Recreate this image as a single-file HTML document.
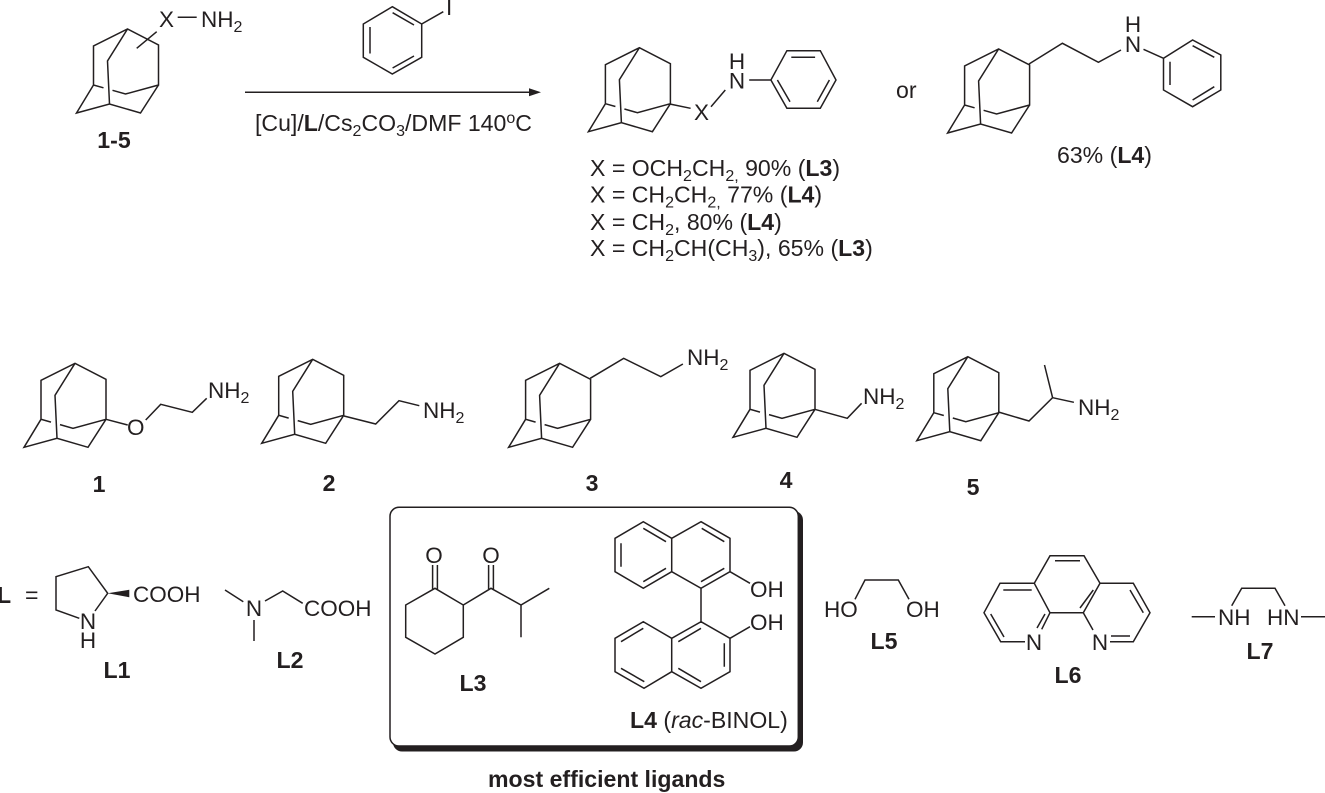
<!DOCTYPE html>
<html><head><meta charset="utf-8">
<style>
html,body{margin:0;padding:0;background:#fff;width:1325px;height:793px;overflow:hidden}
svg{display:block}
text{font-family:"Liberation Sans",sans-serif;font-size:22.5px;fill:#231f20}
text.t{font-size:23.1px}
.b{font-weight:bold}
.m{text-anchor:middle}
path,line,polygon,polyline{stroke:#231f20;stroke-width:1.5;fill:none;stroke-linejoin:miter}
tspan.s{font-size:16px}
</style></head><body>
<svg width="1325" height="793" viewBox="0 0 1325 793" xmlns="http://www.w3.org/2000/svg">
<defs><path id="ad" d="M-34 56V17L0 0L31 16V56L-2 65L-15 61.3M-24 58.8L-34 56L-51 84L-18 75L13 84L31 56M0 0L-20 32L-18 75"/></defs>

<!-- top reactant -->
<use href="#ad" x="127.5" y="29"/>
<path d="M136.7 48.3L156.7 31.7M177.7 17.3H196.7"/>
<text x="159" y="27">X</text>
<text x="201" y="27">NH<tspan class="s" dy="5">2</tspan></text>
<text class="b m t" x="114" y="148">1-5</text>

<!-- iodobenzene -->
<path d="M392.3 6.7L421.7 24V57.3L392.3 74L363.3 57.3V24ZM370 27V53.5M392.6 12.7L414 25M392.6 68L414 56M421.7 24L443.3 11.7"/>
<text x="446" y="15">I</text>

<!-- arrow -->
<line x1="245" y1="92.3" x2="532" y2="92.3"/>
<polygon points="541,92.3 529,88.3 529,96.3" style="fill:#231f20;stroke:none"/>
<text class="t" x="255" y="131">[Cu]/<tspan class="b">L</tspan>/Cs<tspan class="s" dy="5">2</tspan><tspan dy="-5">CO</tspan><tspan class="s" dy="5">3</tspan><tspan dy="-5">/DMF 140</tspan><tspan class="s" dy="-8">o</tspan><tspan dy="8">C</tspan></text>

<!-- product -->
<use href="#ad" x="639.4" y="47.7"/>
<path d="M669.8 104L690.6 108.3M711 106.7L725.3 90M749.2 80H770.9L786.9 50.7H820.3L836 80L820.3 108.3H786.9L770.9 80M791.3 57.3H815.1M777.4 80L790 101.7M829.4 80L817.3 101.7"/>
<text x="694" y="120">X</text>
<text class="m" x="737" y="88.5">N</text>
<text class="m" x="737" y="69">H</text>
<text class="t" x="590" y="176">X = OCH<tspan class="s" dy="5">2</tspan><tspan dy="-5">CH</tspan><tspan class="s" dy="5">2,</tspan><tspan dy="-5"> 90% (</tspan><tspan class="b">L3</tspan>)</text>
<text class="t" x="590" y="202.5">X = CH<tspan class="s" dy="5">2</tspan><tspan dy="-5">CH</tspan><tspan class="s" dy="5">2,</tspan><tspan dy="-5"> 77% (</tspan><tspan class="b">L4</tspan>)</text>
<text class="t" x="590" y="230">X = CH<tspan class="s" dy="5">2</tspan><tspan dy="-5">, 80% (</tspan><tspan class="b">L4</tspan>)</text>
<text class="t" x="590" y="256">X = CH<tspan class="s" dy="5">2</tspan><tspan dy="-5">CH(CH</tspan><tspan class="s" dy="5">3</tspan><tspan dy="-5">), 65% (</tspan><tspan class="b">L3</tspan>)</text>

<text class="t" x="896" y="98">or</text>

<use href="#ad" x="998.6" y="49"/>
<path d="M1029 64L1062.4 43.3L1098.4 62.3L1121 50M1143.5 49.3L1163.5 58.3L1192.6 40L1220.8 55V90L1192.6 106.7L1163.5 90V58.3M1192.6 45.7L1214.3 57.3M1170 61.7V85M1192.6 100L1214.3 86.7"/>
<text class="m" x="1133" y="52">N</text>
<text class="m" x="1133" y="32">H</text>
<text class="t" x="1057" y="163">63% (<tspan class="b">L4</tspan>)</text>

<!-- 1 -->
<use href="#ad" x="75" y="363.3"/>
<path d="M106 419.3L127.7 425M145.7 420L160.7 404.3L192.3 412.3L206.7 398.3"/>
<text x="127" y="435">O</text>
<text x="208" y="398">NH<tspan class="s" dy="5">2</tspan></text>
<text class="b m t" x="99" y="492">1</text>

<!-- 2 -->
<use href="#ad" x="312.7" y="359.3"/>
<path d="M344 416L375.7 424L399 400.7L419.3 405.7"/>
<text x="423" y="418">NH<tspan class="s" dy="5">2</tspan></text>
<text class="b m t" x="329" y="491">2</text>

<!-- 3 -->
<use href="#ad" x="559.6" y="363.3"/>
<path d="M590.2 378.3L623.7 358.3L660.8 376.7L682.9 364"/>
<text x="687" y="365">NH<tspan class="s" dy="5">2</tspan></text>
<text class="b m t" x="592" y="491">3</text>

<!-- 4 -->
<use href="#ad" x="784" y="353.3"/>
<path d="M814.7 409.3L847.3 418.3L861.6 403.3"/>
<text x="863" y="404">NH<tspan class="s" dy="5">2</tspan></text>
<text class="b m t" x="786" y="488">4</text>

<!-- 5 -->
<use href="#ad" x="967.8" y="356.7"/>
<path d="M998.4 412L1029 421L1052.6 397.7L1044.5 365M1052.6 397.7L1073.9 402.3"/>
<text x="1078" y="415">NH<tspan class="s" dy="5">2</tspan></text>
<text class="b m t" x="973" y="495">5</text>

<!-- L= -->
<text class="b t" x="-3" y="603">L</text>
<text class="t" x="25" y="603">=</text>

<!-- L1 -->
<path d="M79.3 618.3L56 610V576.7L88.3 566.7L107.7 593.3L95 611"/>
<polygon points="107.7,593.3 129.3,589.8 129.3,597.3" style="fill:#231f20;stroke:none"/>
<text x="133" y="602">COOH</text>
<text class="m" x="88" y="629">N</text>
<text class="m" x="88" y="648">H</text>
<text class="b m t" x="117" y="678">L1</text>

<!-- L2 -->
<path d="M225 590L243.3 601.7M254 620V641M265 601L282.7 591L302.7 603.3"/>
<text class="m" x="254" y="616">N</text>
<text x="304" y="616">COOH</text>
<text class="b m t" x="290" y="668">L2</text>

<!-- Box -->
<rect x="393" y="511" width="410" height="240.5" rx="9" style="fill:#231f20"/>
<rect x="390" y="507.3" width="408.3" height="238.7" rx="9" style="fill:#fff;stroke:#231f20;stroke-width:1.5"/>

<!-- L3 -->
<path d="M435 588.3L463.3 605V637.3L435 654L405.7 637.3V605ZM463.3 605L491 588.3L521 605L549.3 588.3M521 605V637.3M432.6 589V565M437.4 590V565M488.6 589V565M493.4 590V565"/>
<text class="m" x="434" y="563">O</text>
<text class="m" x="491" y="563">O</text>
<text class="b m t" x="473" y="691">L3</text>

<!-- L4 -->
<path d="M701 521.7L730 538.3V571.7L701 588.3L671.7 571.7V538.3ZM671.7 538.3L643.3 521.7L615 538.3V571.7L643.3 588.3L671.7 571.7M621 543.3V566.7M643.3 528.3L666 541.7M643.3 581.7L666 568.3M701.7 528.3L724.3 541.7M701 581.7L724.3 568.3M730 571.7L750 583.3M701 588.3V621.7"/>
<path d="M701 621.7L730 638.3V671.7L701 688.3L671.7 671.7V638.3ZM671.7 638.3L643.3 621.7L615 638.3V671.7L644 688.3L671.7 671.7M701 628.3L678.3 641.7M724.3 643.3V666.7M678.3 668.3L701 681.7M643.3 628.3L621 641.7M621 668.3L644.3 681.7M730 638.3L750 626.7"/>
<text x="750" y="597">OH</text>
<text x="750" y="630">OH</text>
<text class="t" x="630" y="728"><tspan class="b">L4</tspan> (<tspan font-style="italic">rac</tspan>-BINOL)</text>
<text class="b t" x="488" y="787">most efficient ligands</text>

<!-- L5 -->
<path d="M855 599.3L865 580H898.3L909 599.3"/>
<text x="824" y="617">HO</text>
<text x="906" y="617">OH</text>
<text class="b m t" x="884" y="649">L5</text>

<!-- L6 -->
<path d="M1050 555.7H1084L1100 583.3L1083.3 612.7H1050L1034.3 583.3ZM1055 560.7H1080M1034.3 583.3H1000L984 612.7L1000.7 641.7H1025M1050 612.7L1041.7 629.3M1003.3 590H1031.7M990.7 614L1004 637M1045 614L1037 628M1100 583.3H1133.3L1150 612.7L1133.3 641.7H1110M1083.3 612.7L1093 630M1130 590L1143.3 612.7M1111 636H1130M1093.3 590L1080 608"/>
<text class="m" x="1034" y="650">N</text>
<text class="m" x="1100" y="650">N</text>
<text class="b m t" x="1068" y="683">L6</text>

<!-- L7 -->
<path d="M1191.7 616.7H1215M1231.7 605.7L1241.7 588.3H1275L1285 605.7M1301 616.7H1325"/>
<text x="1218" y="625">NH</text>
<text x="1267" y="625">HN</text>
<text class="b m t" x="1260" y="659">L7</text>
</svg>
</body></html>
